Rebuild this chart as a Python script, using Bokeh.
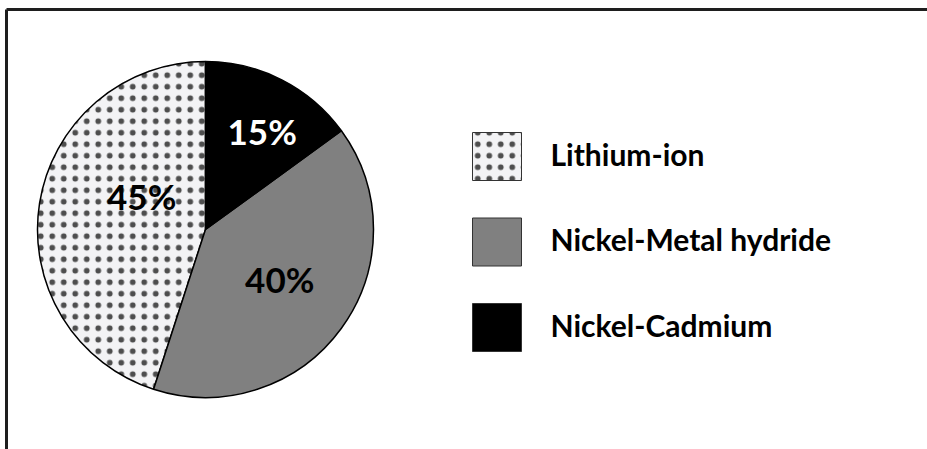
import numpy as np
from bokeh.plotting import figure
from bokeh.models import Range1d, ColumnDataSource
from bokeh.core.properties import value
from bokeh.embed import file_html
from bokeh.resources import INLINE

# Battery technology market shares
categories = ["Lithium-ion", "Nickel-Metal hydride", "Nickel-Cadmium"]
shares = [45, 40, 15]
share_labels = ["45%", "40%", "15%"]

# Styling per category
fills = ["#f3f3f5", "#808080", "#000000"]
hatches = ["dot", "blank", "blank"]
label_colors = ["black", "black", "white"]
# label placement: fraction of radius, and shift from the slice's mid-angle (degrees)
label_radius = [0.43, 0.53, 0.675]
label_shift = [-19.0, 2.5, -3.0]
# clockwise order of slices starting at 12 o'clock
sweep_order = [2, 1, 0]

W, H = 927, 449
FONT = "Lato"
HATCH = dict(hatch_color="#3c3c3c", hatch_scale=11.5, hatch_weight=0.6, hatch_alpha=0.9)

p = figure(width=W, height=H, output_backend="svg", toolbar_location=None,
           x_range=Range1d(0, W), y_range=Range1d(0, H), min_border=0)
p.axis.visible = False
p.grid.visible = False
p.outline_line_color = None
p.background_fill_color = "white"
p.border_fill_color = "white"

def Y(px):
    return H - px

# frame lines (top and left)
p.segment(x0=[6, 6], y0=[Y(9), Y(9)], x1=[W + 5, 6], y1=[Y(9), -5],
          line_color="#1e1e1e", line_width=3)

cx, cy, r = 205, Y(229), 168
total = float(sum(shares))

start, end, mid = [0.0] * 3, [0.0] * 3, [0.0] * 3
acc = 0.0
for i in sweep_order:
    a0 = 90 - 360 * acc / total
    acc += shares[i]
    a1 = 90 - 360 * acc / total
    start[i], end[i], mid[i] = a0, a1, (a0 + a1) / 2

src = ColumnDataSource(dict(
    start=np.radians(start), end=np.radians(end), fill=fills, hatch=hatches,
))
p.wedge(x=cx, y=cy, radius=r, start_angle="start", end_angle="end",
        direction="clock", source=src, fill_color="fill",
        hatch_pattern="hatch", line_color="black", line_width=1.5, **HATCH)

lx = [cx + f * r * np.cos(np.radians(m + s)) for f, m, s in zip(label_radius, mid, label_shift)]
ly = [cy + f * r * np.sin(np.radians(m + s)) for f, m, s in zip(label_radius, mid, label_shift)]
p.text(x=lx, y=ly, text=share_labels, text_color=label_colors,
       text_font=value(FONT), text_font_style="bold", text_font_size="35px",
       text_align="center", text_baseline="middle")

# legend
row_y = [Y(156 + 85.5 * k) for k in range(len(categories))]
p.rect(x=496.5, y=row_y, width=49, height=48, fill_color=fills,
       hatch_pattern=hatches, line_color="#333333", line_width=1, **HATCH)
p.text(x=550, y=[v + 3 for v in row_y], text=categories, text_color="black",
       text_font=value(FONT), text_font_style="bold", text_font_size="30px",
       text_align="left", text_baseline="middle")

open("out.html", "w").write(file_html(p, INLINE))
